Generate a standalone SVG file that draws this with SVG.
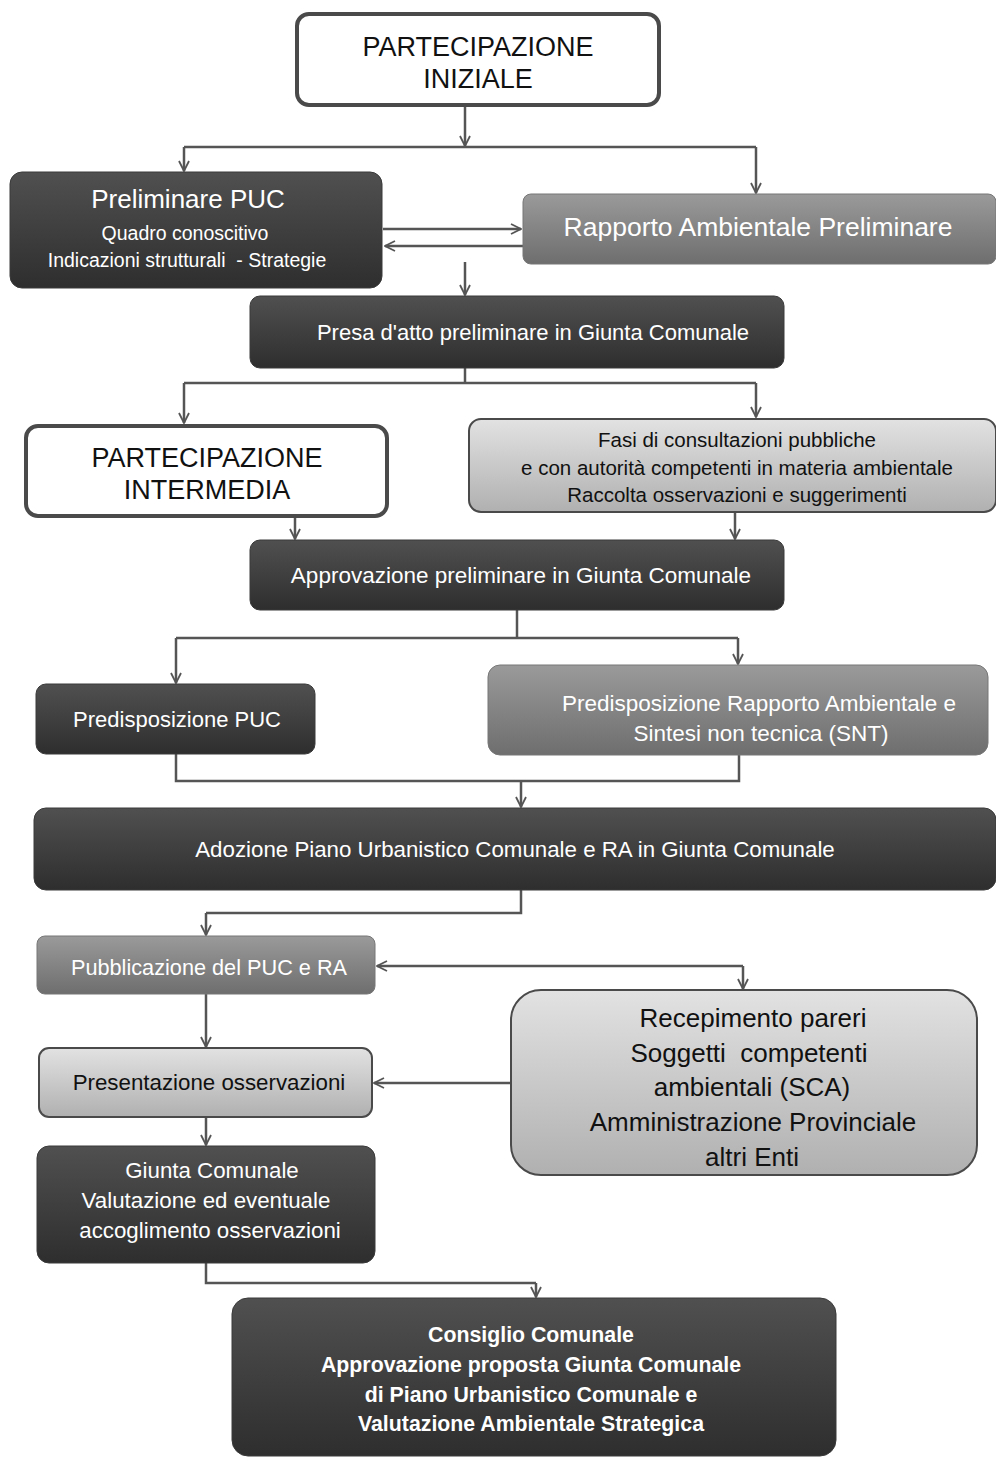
<svg xmlns="http://www.w3.org/2000/svg" width="996" height="1457" viewBox="0 0 996 1457">
<defs>
<linearGradient id="gDark" x1="0" y1="0" x2="0" y2="1"><stop offset="0" stop-color="#505050"/><stop offset="1" stop-color="#2e2e2e"/></linearGradient>
<linearGradient id="gMid" x1="0" y1="0" x2="0" y2="1"><stop offset="0" stop-color="#9a9a9a"/><stop offset="1" stop-color="#6e6e6e"/></linearGradient>
<linearGradient id="gLight" x1="0" y1="0" x2="0" y2="1"><stop offset="0" stop-color="#e2e2e2"/><stop offset="1" stop-color="#b0b0b0"/></linearGradient>
<marker id="arr" viewBox="0 0 12 12" refX="11" refY="6" markerWidth="12" markerHeight="12" markerUnits="userSpaceOnUse" orient="auto">
<path d="M1,1 L11,6 L1,11" fill="none" stroke="#555" stroke-width="1.8"/>
</marker>
</defs>
<style>
.dark{fill:url(#gDark);stroke:#3a3a3a;stroke-width:1}
.mid{fill:url(#gMid);stroke:#777;stroke-width:1}
.light{fill:url(#gLight);stroke:#4a4a4a;stroke-width:2}
.white{fill:#fff;stroke:#4a4a4a;stroke-width:4}
.tw{fill:#fff;font-family:"Liberation Sans",Arial,sans-serif;text-anchor:middle}
.tb{fill:#111;font-family:"Liberation Sans",Arial,sans-serif;text-anchor:middle}
.c{fill:none;stroke:#555;stroke-width:2.5}
.a{marker-end:url(#arr)}
</style>
<rect width="996" height="1457" fill="#fff"/>

<g id="connectors">
<path class="c a" d="M465,106 V146"/>
<path class="c" d="M184,147 H756"/>
<path class="c a" d="M184,147 V171"/>
<path class="c a" d="M756,147 V193"/>
<path class="c a" d="M383,229 H521"/>
<path class="c a" d="M523,246 H385"/>
<path class="c a" d="M465,262 V295"/>
<path class="c" d="M465,368 V383"/>
<path class="c" d="M184,383 H756"/>
<path class="c a" d="M184,383 V423"/>
<path class="c a" d="M756,383 V417"/>
<path class="c a" d="M295,517 V539"/>
<path class="c a" d="M735,512 V539"/>
<path class="c" d="M517,610 V638"/>
<path class="c" d="M176,638 H738"/>
<path class="c a" d="M176,638 V683"/>
<path class="c a" d="M738,638 V664"/>
<path class="c" d="M176,754 V781 H739 V755"/>
<path class="c a" d="M521,781 V807"/>
<path class="c" d="M521,890 V913 H206"/>
<path class="c a" d="M206,913 V935"/>
<path class="c a" d="M743,966 H377"/>
<path class="c a" d="M743,966 V989"/>
<path class="c a" d="M206,994 V1047"/>
<path class="c a" d="M511,1083 H374"/>
<path class="c a" d="M206,1117 V1145"/>
<path class="c" d="M206,1263 V1283 H536"/>
<path class="c a" d="M536,1283 V1297"/>
</g>

<g id="n1">
<rect class="white" x="297" y="14" width="362" height="91" rx="12"/>
<text class="tb" x="478" y="56" font-size="27">PARTECIPAZIONE</text>
<text class="tb" x="478" y="88" font-size="27">INIZIALE</text>
</g>

<g id="n2">
<rect class="dark" x="10" y="172" width="372" height="116" rx="12"/>
<text class="tw" x="188" y="208" font-size="26">Preliminare PUC</text>
<text class="tw" x="185" y="240" font-size="19.5">Quadro conoscitivo</text>
<text class="tw" x="187" y="267" font-size="19.5">Indicazioni strutturali&#160; - Strategie</text>
</g>

<g id="n3">
<rect class="mid" x="523" y="194" width="473" height="70" rx="8"/>
<text class="tw" x="758" y="236" font-size="26.5">Rapporto Ambientale Preliminare</text>
</g>

<g id="n4">
<rect class="dark" x="250" y="296" width="534" height="72" rx="10"/>
<text class="tw" x="533" y="340" font-size="22">Presa d'atto preliminare in Giunta Comunale</text>
</g>

<g id="n5">
<rect class="white" x="26" y="426" width="361" height="90" rx="12"/>
<text class="tb" x="207" y="467" font-size="27">PARTECIPAZIONE</text>
<text class="tb" x="207" y="499" font-size="27">INTERMEDIA</text>
</g>

<g id="n6">
<rect class="light" x="469" y="419" width="527" height="93" rx="12"/>
<text class="tb" x="737" y="447" font-size="20.5">Fasi di consultazioni pubbliche</text>
<text class="tb" x="737" y="475" font-size="20.5">e con autorità competenti in materia ambientale</text>
<text class="tb" x="737" y="502" font-size="20.5">Raccolta osservazioni e suggerimenti</text>
</g>

<g id="n7">
<rect class="dark" x="250" y="540" width="534" height="70" rx="10"/>
<text class="tw" x="521" y="583" font-size="22.5">Approvazione preliminare in Giunta Comunale</text>
</g>

<g id="n8">
<rect class="dark" x="36" y="684" width="279" height="70" rx="10"/>
<text class="tw" x="177" y="727" font-size="22">Predisposizione PUC</text>
</g>

<g id="n9">
<rect class="mid" x="488" y="665" width="500" height="90" rx="12"/>
<text class="tw" x="759" y="711" font-size="22.5">Predisposizione Rapporto Ambientale e</text>
<text class="tw" x="761" y="741" font-size="22.5">Sintesi non tecnica (SNT)</text>
</g>

<g id="n10">
<rect class="dark" x="34" y="808" width="962" height="82" rx="12"/>
<text class="tw" x="515" y="857" font-size="22.3">Adozione Piano Urbanistico Comunale e RA in Giunta Comunale</text>
</g>

<g id="n11">
<rect class="mid" x="37" y="936" width="338" height="58" rx="8"/>
<text class="tw" x="209" y="975" font-size="21.7">Pubblicazione del PUC e RA</text>
</g>

<g id="n12">
<rect class="light" x="39" y="1048" width="333" height="69" rx="10"/>
<text class="tb" x="209" y="1090" font-size="22.3">Presentazione osservazioni</text>
</g>

<g id="n13">
<rect class="light" x="511" y="990" width="466" height="185" rx="30"/>
<text class="tb" x="753" y="1027" font-size="26">Recepimento pareri</text>
<text class="tb" x="749" y="1062" font-size="26">Soggetti&#160; competenti</text>
<text class="tb" x="752" y="1096" font-size="26">ambientali (SCA)</text>
<text class="tb" x="753" y="1131" font-size="26">Amministrazione Provinciale</text>
<text class="tb" x="752" y="1166" font-size="26">altri Enti</text>
</g>

<g id="n14">
<rect class="dark" x="37" y="1146" width="338" height="117" rx="12"/>
<text class="tw" x="212" y="1178" font-size="22.3">Giunta Comunale</text>
<text class="tw" x="206" y="1208" font-size="22.3">Valutazione ed eventuale</text>
<text class="tw" x="210" y="1238" font-size="22.3">accoglimento osservazioni</text>
</g>

<g id="n15">
<rect class="dark" x="232" y="1298" width="604" height="158" rx="16"/>
<text class="tw" x="531" y="1342" font-size="21.3" font-weight="bold">Consiglio Comunale</text>
<text class="tw" x="531" y="1372" font-size="21.3" font-weight="bold">Approvazione proposta Giunta Comunale</text>
<text class="tw" x="531" y="1402" font-size="21.3" font-weight="bold">di Piano Urbanistico Comunale e</text>
<text class="tw" x="531" y="1431" font-size="21.3" font-weight="bold">Valutazione Ambientale Strategica</text>
</g>
</svg>
